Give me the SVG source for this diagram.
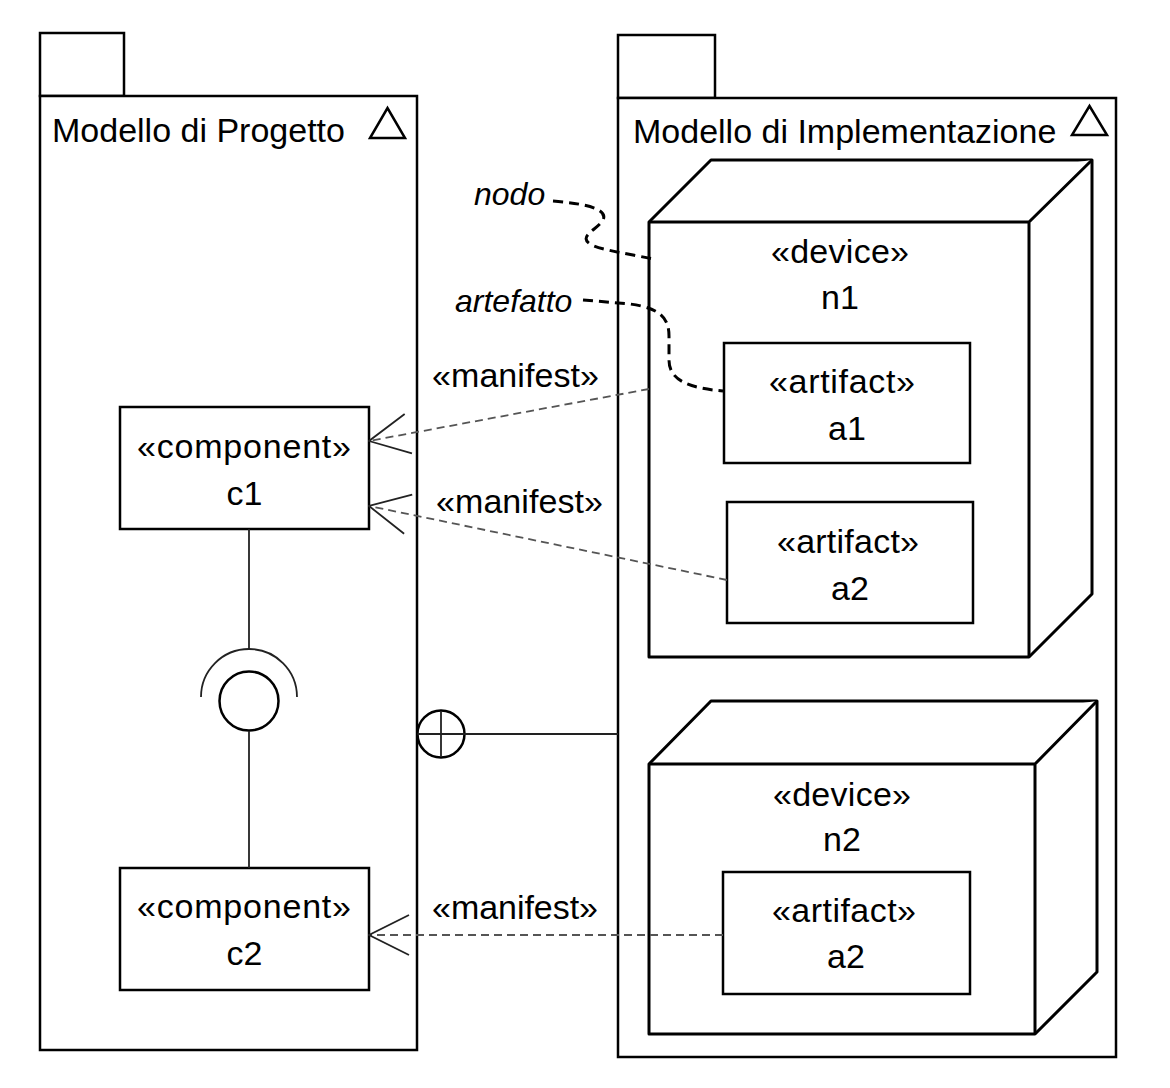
<svg xmlns="http://www.w3.org/2000/svg" width="1170" height="1088" viewBox="0 0 1170 1088">
<defs>
<style>
text{font-family:"Liberation Sans",Arial,sans-serif;font-size:34px;fill:#000}
.c{text-anchor:middle}
.it{font-style:italic;font-size:32px}
.pk{fill:#fff;stroke:#000;stroke-width:2.5}
.nd{fill:#fff;stroke:#000;stroke-width:3;stroke-linejoin:round}
.bx{fill:#fff;stroke:#000;stroke-width:2.5}
.thin{fill:none;stroke:#222;stroke-width:1.8}
.dep{fill:none;stroke:#555;stroke-width:1.8;stroke-dasharray:8 5}
.note{fill:none;stroke:#000;stroke-width:3;stroke-dasharray:10 6}
.tri{fill:none;stroke:#000;stroke-width:2.5;stroke-linejoin:miter}
</style>
<marker id="open" viewBox="0 0 42 44" refX="41" refY="22" markerWidth="42" markerHeight="44" markerUnits="userSpaceOnUse" orient="auto">
<path d="M1,2 L41,22 L1,42" fill="none" stroke="#222" stroke-width="1.8"/>
</marker>
</defs>
<g id="pkg-progetto">
<rect class="pk" x="40" y="33" width="84" height="63"/>
<rect class="pk" x="40" y="96" width="377" height="954"/>
<text x="52" y="142">Modello di Progetto</text>
<path class="tri" d="M370,138 L405,138 L387.5,108 Z"/>
</g>
<g id="pkg-implementazione">
<rect class="pk" x="618" y="35" width="97" height="63"/>
<rect class="pk" x="618" y="98" width="498" height="959"/>
<text x="633" y="143">Modello di Implementazione</text>
<path class="tri" d="M1072,135 L1107,135 L1089.5,106 Z"/>
</g>
<g id="node-n1">
<path class="nd" d="M649,222 L711,160 L1092,160 L1092,594 L1029,657 L649,657 Z"/>
<path class="nd" d="M649,222 L1029,222 L1092,160 M1029,222 L1029,657" fill="none"/>
<text class="c" x="840" y="263" textLength="138" lengthAdjust="spacing">«device»</text>
<text class="c" x="840" y="309">n1</text>
</g>
<g id="artifact-a1">
<rect class="bx" x="724" y="343" width="246" height="120"/>
<text class="c" x="842" y="393" textLength="146" lengthAdjust="spacing">«artifact»</text>
<text class="c" x="847" y="440">a1</text>
</g>
<g id="artifact-a2-n1">
<rect class="bx" x="727" y="502" width="246" height="121"/>
<text class="c" x="848" y="553" textLength="142" lengthAdjust="spacing">«artifact»</text>
<text class="c" x="850" y="600">a2</text>
</g>
<g id="node-n2">
<path class="nd" d="M649,764 L711,701 L1097,701 L1097,972 L1035,1034 L649,1034 Z"/>
<path class="nd" d="M649,764 L1035,764 L1097,701 M1035,764 L1035,1034" fill="none"/>
<text class="c" x="842" y="806" textLength="138" lengthAdjust="spacing">«device»</text>
<text class="c" x="842" y="851">n2</text>
</g>
<g id="artifact-a2-n2">
<rect class="bx" x="723" y="872" width="247" height="122"/>
<text class="c" x="844" y="922" textLength="144" lengthAdjust="spacing">«artifact»</text>
<text class="c" x="846" y="968">a2</text>
</g>
<g id="component-c1">
<rect class="bx" x="120" y="407" width="249" height="122"/>
<text class="c" x="244" y="458" textLength="214" lengthAdjust="spacing">«component»</text>
<text class="c" x="244.5" y="505">c1</text>
</g>
<g id="component-c2">
<rect class="bx" x="120" y="868" width="249" height="122"/>
<text class="c" x="244" y="918" textLength="214" lengthAdjust="spacing">«component»</text>
<text class="c" x="244.5" y="965">c2</text>
</g>
<g id="interface">
<circle cx="249" cy="701" r="29.5" fill="#fff" stroke="#000" stroke-width="2.5"/>
<path class="thin" d="M201,697 A48,48 0 0 1 297,697"/>
</g>
<g id="connectors">
<path class="thin" d="M249,529 L249,650"/>
<path class="thin" d="M249,731 L249,868"/>
<circle cx="441" cy="734" r="23.5" fill="#fff" stroke="#000" stroke-width="2.5"/>
<path class="thin" d="M441,711 L441,757 M417.5,734 L618,734"/>
<path class="dep" d="M649,389 L369,441" marker-end="url(#open)"/>
<path class="dep" d="M727,580 L369,506" marker-end="url(#open)"/>
<path class="dep" d="M723,935 L369,935" marker-end="url(#open)"/>
<text x="432" y="387" textLength="167" lengthAdjust="spacing">«manifest»</text>
<text x="436" y="513" textLength="167" lengthAdjust="spacing">«manifest»</text>
<text x="432" y="919" textLength="166" lengthAdjust="spacing">«manifest»</text>
<path class="note" d="M553,201 C590,204 608,210 603,220 C597,230 578,236 590,244 C600,250 630,254 653,259"/>
<path class="note" d="M583,300 L630,304 C660,308 669,318 669,336 L669,360 C669,380 688,388 723,391"/>
<text class="it" x="474" y="205">nodo</text>
<text class="it" x="455" y="312">artefatto</text>
</g>
</svg>
